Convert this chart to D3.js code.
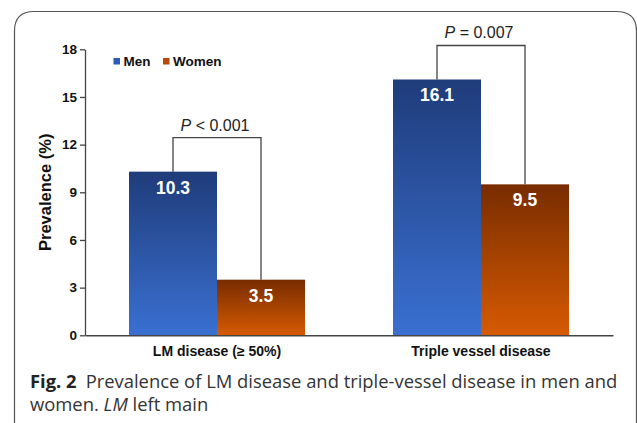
<!DOCTYPE html>
<html><head><meta charset="utf-8">
<script src="https://cdn.jsdelivr.net/npm/d3@7/dist/d3.min.js"></script>
<style>html,body{margin:0;padding:0;background:#fff;}svg{display:block;}</style>
</head><body>
<svg id="c" width="637" height="423"></svg>
<script>
const categories = ["LM disease (\u2265 50%)", "Triple vessel disease"];
const series = ["Men", "Women"];
const menValues = [10.3, 16.1];
const womenValues = [3.5, 9.5];
const pLabels = ["< 0.001", "= 0.007"];
const yTicks = [0, 3, 6, 9, 12, 15, 18];

const svg = d3.select("#c");
const W = 637, H = 423;

// frame
svg.append("path")
  .attr("d", `M14.5,${H+2} L14.5,31 Q14.5,11.5 34,11.5 L616,11.5 Q636.5,11.5 636.5,31 L636.5,${H+2}`)
  .attr("fill","none").attr("stroke","#555").attr("stroke-width",1.2);

const plot = {l:85, r:613, t:49.3, b:335.3};
const y = d3.scaleLinear().domain([0,18]).range([plot.b, plot.t]);
const x0 = d3.scaleBand().domain(categories).range([plot.l, plot.r]).padding(0);
const x1 = d3.scaleBand().domain(series).range([0, x0.bandwidth()]).paddingInner(0).paddingOuter(0.5);

const defs = svg.append("defs");
const gradM = defs.append("linearGradient").attr("id","gM").attr("x1",0).attr("y1",0).attr("x2",0).attr("y2",1);
gradM.append("stop").attr("offset","0%").attr("stop-color","#1f3c7a");
gradM.append("stop").attr("offset","100%").attr("stop-color","#3a70d2");
const gradW = defs.append("linearGradient").attr("id","gW").attr("x1",0).attr("y1",0).attr("x2",0).attr("y2",1);
gradW.append("stop").attr("offset","0%").attr("stop-color","#782c00");
gradW.append("stop").attr("offset","100%").attr("stop-color","#d65a02");
const fills = {Men:"url(#gM)", Women:"url(#gW)"};
const legendCol = {Men:"#2e5cb8", Women:"#b84a08"};

const data = categories.map((c,i)=>({cat:c, vals:[{s:"Men",v:menValues[i]},{s:"Women",v:womenValues[i]}], p:pLabels[i]}));
const FF = "Liberation Sans, Arial, sans-serif";

// bars
const g = svg.append("g");
data.forEach(d=>{
  d.vals.forEach(b=>{
    const bx = x0(d.cat)+x1(b.s);
    g.append("rect").attr("x",bx).attr("y",y(b.v)).attr("width",x1.bandwidth()).attr("height",y(0)-y(b.v))
      .attr("fill",fills[b.s]);
    g.append("text").attr("x",bx+x1.bandwidth()/2).attr("y",y(b.v)+22)
      .attr("text-anchor","middle").attr("fill","#fff")
      .style("font-family",FF).style("font-weight","bold").style("font-size","17.5px")
      .text(b.v.toFixed(1));
  });
  // bracket
  const m = d.vals[0], w = d.vals[1];
  const xm = x0(d.cat)+x1("Men")+x1.bandwidth()/2;
  const xw = x0(d.cat)+x1("Women")+x1.bandwidth()/2;
  const top = y(m.v) - 34;
  g.append("path").attr("d",`M${xm},${y(m.v)} V${top} H${xw} V${y(w.v)}`)
    .attr("fill","none").attr("stroke","#444").attr("stroke-width",1.3);
  const t = g.append("text").attr("x",(xm+xw)/2 - 2).attr("y",top-7).attr("text-anchor","middle")
    .style("font-family",FF).style("font-size","16px").attr("fill","#222");
  t.append("tspan").style("font-style","italic").text("P");
  t.append("tspan").text(" " + d.p);
});

// y axis
const yAxis = d3.axisLeft(y).tickValues(yTicks).tickSize(5).tickSizeOuter(0).tickFormat(d3.format("d"));
const ya = svg.append("g").attr("transform",`translate(${plot.l},0)`).call(yAxis);
ya.select(".domain").attr("stroke","#444").attr("stroke-width",1.3);
ya.selectAll(".tick line").attr("stroke","#444").attr("stroke-width",1.3);
ya.selectAll(".tick text").attr("x",-8).attr("fill","#111")
  .style("font-family",FF).style("font-weight","bold").style("font-size","13.5px");

// x axis
const xAxis = d3.axisBottom(x0).tickSize(0).tickPadding(11);
const xa = svg.append("g").attr("transform",`translate(0,${plot.b})`).call(xAxis);
xa.select(".domain").attr("stroke","#444").attr("stroke-width",1.5);
xa.selectAll(".tick text").attr("fill","#111")
  .style("font-family",FF).style("font-weight","bold").style("font-size","14px");

// y title
svg.append("text").attr("transform",`translate(51,${(plot.t+plot.b)/2}) rotate(-90)`)
  .attr("text-anchor","middle").attr("fill","#111")
  .style("font-family",FF).style("font-weight","bold").style("font-size","16.5px")
  .text("Prevalence (%)");

// legend
const lg = svg.append("g");
const lx = [113.5, 163];
series.forEach((s,i)=>{
  lg.append("rect").attr("x",lx[i]).attr("y",58).attr("width",6.5).attr("height",6.5).attr("fill",legendCol[s]);
  lg.append("text").attr("x",lx[i]+10).attr("y",66).attr("fill","#111")
    .style("font-family",FF).style("font-weight","bold").style("font-size","13.5px")
    .text(s);
});

// caption
const cap = svg.append("text").attr("x",30).attr("y",388).attr("fill","#333")
  .style("font-family","Open Sans, Noto Sans, sans-serif").style("font-size","18.4px");
cap.append("tspan").style("font-weight","bold").attr("fill","#222").text("Fig. 2");
cap.append("tspan").attr("dx",9).text("Prevalence of LM disease and triple-vessel disease in men and");
const cap2 = svg.append("text").attr("x",30).attr("y",411).attr("fill","#333")
  .style("font-family","Open Sans, Noto Sans, sans-serif").style("font-size","18.4px");
cap2.append("tspan").text("women. ");
cap2.append("tspan").style("font-style","italic").text("LM");
cap2.append("tspan").text(" left main");
</script>
</body></html>
